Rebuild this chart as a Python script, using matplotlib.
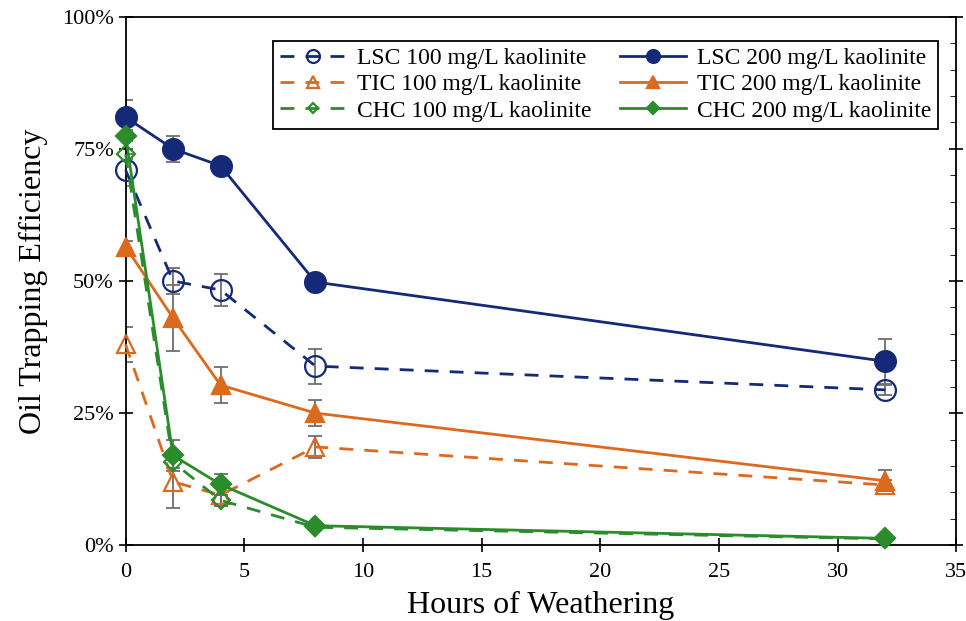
import matplotlib.pyplot as plt
from matplotlib.ticker import FuncFormatter, MultipleLocator

hours = [0, 2, 4, 8, 32]

# Oil trapping efficiency (%) and error bars (%)
lsc100 = [71, 50, 48.3, 33.9, 29.4]
lsc100_err = [3, 2.5, 3, 3.3, 1]
lsc200 = [81, 75, 71.8, 49.8, 34.8]
lsc200_err = [3.3, 2.5, 1, 1, 4.3]
tic100 = [38, 12, 9.5, 18.6, 11.4]
tic100_err = [3.3, 5, 2, 2, 1]
tic200 = [56.5, 43, 30.3, 25, 12.2]
tic200_err = [1, 6.3, 3.4, 2.5, 2]
chc100 = [74, 15.7, 8.5, 3.4, 1.2]
chc100_err = [1, 1, 1, 0.5, 0.5]
chc200 = [77.5, 17, 11.5, 3.7, 1.3]
chc200_err = [1, 3, 2, 0.5, 0.5]

navy = '#142a78'
orange = '#dc6a1e'
green = '#2b8c2b'
gray = '#6e6e6e'

plt.rcParams['font.family'] = ['Liberation Serif', 'DejaVu Serif']

fig = plt.figure(figsize=(9.66, 6.21), dpi=100)
ax = fig.add_axes([0.130, 0.122, 0.860, 0.851])

# order chosen so the two-column legend reads row by row like the original
series = [
    (lsc100, lsc100_err, navy, 'o', 'none', '--', 15, 'LSC 100 mg/L kaolinite'),
    (tic100, tic100_err, orange, '^', 'none', '--', 13, 'TIC 100 mg/L kaolinite'),
    (chc100, chc100_err, green, 'D', 'none', '--', 9, 'CHC 100 mg/L kaolinite'),
    (lsc200, lsc200_err, navy, 'o', navy, '-', 15, 'LSC 200 mg/L kaolinite'),
    (tic200, tic200_err, orange, '^', orange, '-', 13, 'TIC 200 mg/L kaolinite'),
    (chc200, chc200_err, green, 'D', green, '-', 10, 'CHC 200 mg/L kaolinite'),
]

for vals, err, col, mk, fc, ls, ms, lab in series:
    ax.errorbar(hours, vals, yerr=err, fmt='none', ecolor=gray,
                elinewidth=1.3, capsize=5, capthick=1.3, zorder=2)
    ax.plot(hours, vals, color=col, linestyle=ls, linewidth=2,
            dashes=(5, 4) if ls == '--' else (None, None),
            marker=mk, markersize=ms, markerfacecolor=fc,
            markeredgecolor=col, markeredgewidth=1.6, label=lab,
            zorder=3, clip_on=False)

ax.set_xlim(0, 35)
ax.set_ylim(0, 100)
ax.xaxis.set_major_locator(MultipleLocator(5))
ax.yaxis.set_major_locator(MultipleLocator(25))
ax.yaxis.set_minor_locator(MultipleLocator(5))
ax.yaxis.set_major_formatter(FuncFormatter(lambda v, p: f'{v:.0f}%'))
ax.tick_params(axis='both', which='major', direction='inout', length=10,
               width=1.2, labelsize=16, colors='black')
ax.tick_params(axis='y', which='minor', direction='in', length=4,
               right=True, left=False)
ax.tick_params(axis='y', which='major', right=True)
ax.tick_params(axis='x', pad=8)
for s in ax.spines.values():
    s.set_linewidth(1.3)

ax.set_xlabel('Hours of Weathering', fontsize=23, labelpad=6)
ax.set_ylabel('Oil Trapping Efficiency', fontsize=23, labelpad=10)

leg = ax.legend(loc='upper right', ncol=2, fontsize=17, frameon=True,
                fancybox=False, edgecolor='black', framealpha=1,
                handlelength=2.8, columnspacing=1.2, labelspacing=0.2,
                borderpad=0.3, handletextpad=0.45, markerscale=0.62,
                borderaxespad=0, bbox_to_anchor=(0.978, 0.955))
leg.get_frame().set_linewidth(1.3)

fig.savefig('out.png', dpi=100)
